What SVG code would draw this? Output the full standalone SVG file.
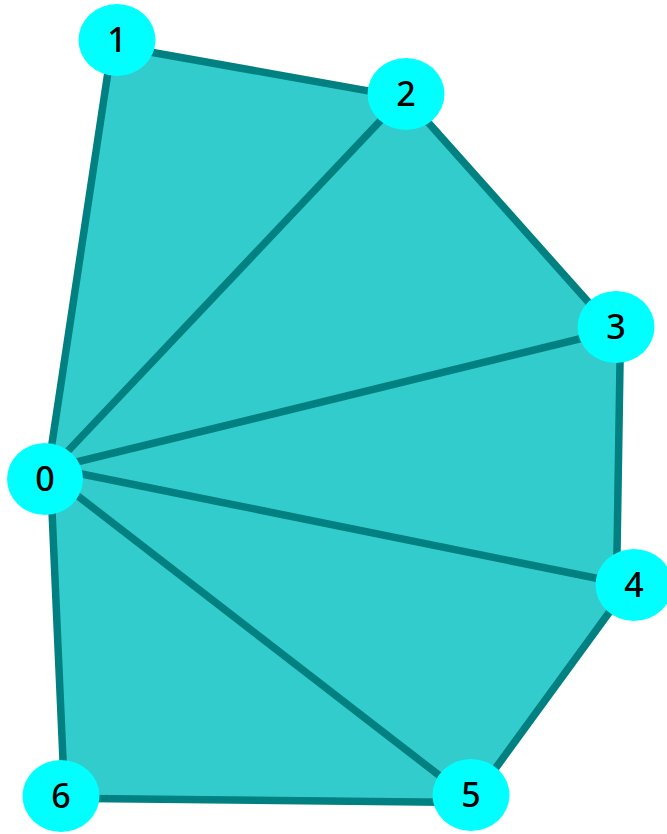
<svg xmlns="http://www.w3.org/2000/svg" width="667" height="834" viewBox="0 0 667 834">
<style>
.face{fill:#33CCCC;stroke:none}
.edge{stroke:#008080;stroke-width:7.5;fill:none;stroke-linecap:butt;stroke-linejoin:round}
.node ellipse{fill:#00FFFF;stroke:none}
.node text{font-family:"Noto Sans","Open Sans",sans-serif;font-size:34px;font-weight:500;fill:#000;text-anchor:middle}
</style>
<rect width="667" height="834" fill="#fff"/>
<polygon class="face" points="49.7,458.7 112,45.2 405.9,97.6 620.4,337.9 616.2,602.7 470.7,802.4 64.7,798.3"/>
<g id="connectors">
<polygon class="edge" points="49.7,458.7 112,45.2 405.9,97.6 620.4,337.9 616.2,602.7 470.7,802.4 64.7,798.3"/>
<line class="edge" x1="50" y1="470" x2="400" y2="100"/>
<line class="edge" x1="52" y1="468" x2="616" y2="330"/>
<line class="edge" x1="52" y1="468" x2="630" y2="585"/>
<line class="edge" x1="52" y1="476" x2="471" y2="800"/>
</g>
<g id="n0" class="node"><ellipse cx="45" cy="479" rx="38" ry="36"/><text x="45" y="491">0</text></g>
<g id="n1" class="node"><ellipse cx="117" cy="40" rx="38.5" ry="36"/><text x="117" y="52">1</text></g>
<g id="n2" class="node"><ellipse cx="406" cy="94" rx="38.5" ry="36"/><text x="406" y="106">2</text></g>
<g id="n3" class="node"><ellipse cx="616" cy="327" rx="38.5" ry="36"/><text x="616" y="339">3</text></g>
<g id="n4" class="node"><ellipse cx="634" cy="585" rx="38.5" ry="36"/><text x="634" y="597">4</text></g>
<g id="n5" class="node"><ellipse cx="471" cy="795" rx="38.5" ry="36"/><text x="471" y="807">5</text></g>
<g id="n6" class="node"><ellipse cx="61" cy="796" rx="38.5" ry="36"/><text x="61" y="808">6</text></g>
</svg>
